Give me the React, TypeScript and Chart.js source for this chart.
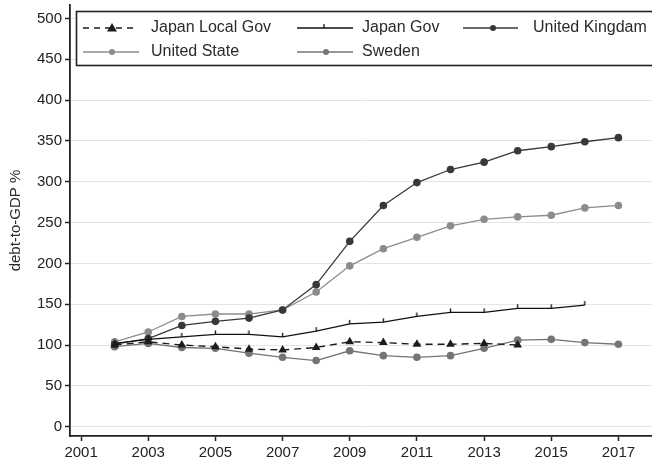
import React, { useEffect, useRef } from "react";
import { Chart, registerables } from "chart.js";

Chart.register(...registerables);

const years = [2002, 2003, 2004, 2005, 2006, 2007, 2008, 2009, 2010, 2011, 2012, 2013, 2014, 2015, 2016, 2017];
const seriesNames = ["Japan Local Gov", "Japan Gov", "United Kingdam", "United State", "Sweden"];
const japanLocalGov = [100, 104, 100, 98, 95, 94, 97, 104, 103, 101, 101, 102, 100];
const japanGov = [102, 107, 110, 113, 113, 110, 117, 126, 128, 135, 140, 140, 145, 145, 149];
const unitedKingdom = [101, 108, 124, 129, 133, 143, 174, 227, 271, 299, 315, 324, 338, 343, 349, 354];
const unitedStates = [104, 116, 135, 138, 138, 143, 165, 197, 218, 232, 246, 254, 257, 259, 268, 271];
const sweden = [98, 102, 97, 96, 90, 85, 81, 93, 87, 85, 87, 96, 106, 107, 103, 101];
const xTicks = [2001, 2003, 2005, 2007, 2009, 2011, 2013, 2015, 2017];
const yTicks = [0, 50, 100, 150, 200, 250, 300, 350, 400, 450, 500];

const FONT = "'Liberation Sans', Arial, Helvetica, sans-serif";

function pts(vals: number[]) {
  return vals.map((v, i) => ({ x: years[i], y: v }));
}

export default function App() {
  const ref = useRef<HTMLCanvasElement | null>(null);

  useEffect(() => {
    document.body.style.margin = "0";
    const canvas = ref.current;
    if (!canvas) return;

    const tick = document.createElement("canvas");
    tick.width = 3;
    tick.height = 10;
    const tctx = tick.getContext("2d")!;
    tctx.strokeStyle = "#111";
    tctx.lineWidth = 1.3;
    tctx.beginPath();
    tctx.moveTo(1.5, 1);
    tctx.lineTo(1.5, 5);
    tctx.stroke();

    const cJL = "#1c1c1c";
    const cJG = "#111111";
    const cUK = "#383838";
    const cUS = "#8c8c8c";
    const cSE = "#747474";

    const legendItems = [
      { label: seriesNames[0], color: cJL, dash: [6, 5], marker: "triangle", x0: 83, x1: 137, mx: 112, tx: 151, y: 28 },
      { label: seriesNames[1], color: cJG, dash: [], marker: "tick", x0: 297, x1: 353, mx: 324, tx: 362, y: 28 },
      { label: seriesNames[2], color: cUK, dash: [], marker: "circle", x0: 463, x1: 518, mx: 493, tx: 533, y: 28 },
      { label: seriesNames[3], color: cUS, dash: [], marker: "circle", x0: 83, x1: 139, mx: 112, tx: 151, y: 52 },
      { label: seriesNames[4], color: cSE, dash: [], marker: "circle", x0: 297, x1: 353, mx: 326, tx: 362, y: 52 },
    ];

    const legendPlugin = {
      id: "boxLegend",
      afterDraw(chart: any) {
        const ctx = chart.ctx as CanvasRenderingContext2D;
        ctx.save();
        ctx.fillStyle = "#ffffff";
        ctx.fillRect(76, 11, 590, 55);
        ctx.strokeStyle = "#222";
        ctx.lineWidth = 1.6;
        ctx.strokeRect(76.5, 11.5, 600, 54);
        for (const it of legendItems) {
          ctx.strokeStyle = it.color;
          ctx.lineWidth = 1.4;
          ctx.setLineDash(it.dash);
          ctx.beginPath();
          ctx.moveTo(it.x0, it.y);
          ctx.lineTo(it.x1, it.y);
          ctx.stroke();
          ctx.setLineDash([]);
          ctx.fillStyle = it.color;
          if (it.marker === "triangle") {
            ctx.beginPath();
            ctx.moveTo(it.mx, it.y - 5);
            ctx.lineTo(it.mx + 5, it.y + 3.5);
            ctx.lineTo(it.mx - 5, it.y + 3.5);
            ctx.closePath();
            ctx.fill();
          } else if (it.marker === "tick") {
            ctx.lineWidth = 1.3;
            ctx.beginPath();
            ctx.moveTo(it.mx, it.y - 4);
            ctx.lineTo(it.mx, it.y);
            ctx.stroke();
          } else {
            ctx.beginPath();
            ctx.arc(it.mx, it.y, 3, 0, Math.PI * 2);
            ctx.fill();
          }
          ctx.fillStyle = "#2a2a2a";
          ctx.font = `16px ${FONT}`;
          ctx.textBaseline = "middle";
          ctx.textAlign = "left";
          ctx.fillText(it.label, it.tx, it.y);
        }
        ctx.restore();
      },
    };

    const chart = new Chart(canvas, {
      type: "line",
      data: {
        datasets: [
          {
            label: seriesNames[0],
            data: pts(japanLocalGov),
            borderColor: cJL,
            backgroundColor: cJL,
            borderWidth: 1.4,
            borderDash: [7, 5],
            pointStyle: "triangle",
            pointRadius: 5,
            pointBorderWidth: 0,
          },
          {
            label: seriesNames[1],
            data: pts(japanGov),
            borderColor: cJG,
            backgroundColor: cJG,
            borderWidth: 1.3,
            pointStyle: tick as any,
            pointRadius: 3,
          },
          {
            label: seriesNames[2],
            data: pts(unitedKingdom),
            borderColor: cUK,
            backgroundColor: cUK,
            borderWidth: 1.3,
            pointStyle: "circle",
            pointRadius: 3.8,
            pointBorderWidth: 0,
          },
          {
            label: seriesNames[3],
            data: pts(unitedStates),
            borderColor: cUS,
            backgroundColor: cUS,
            borderWidth: 1.3,
            pointStyle: "circle",
            pointRadius: 3.8,
            pointBorderWidth: 0,
          },
          {
            label: seriesNames[4],
            data: pts(sweden),
            borderColor: cSE,
            backgroundColor: cSE,
            borderWidth: 1.3,
            pointStyle: "circle",
            pointRadius: 3.8,
            pointBorderWidth: 0,
          },
        ],
      },
      options: {
        responsive: false,
        animation: false,
        devicePixelRatio: 1,
        layout: { autoPadding: false, padding: { top: 5, left: 0, right: 0, bottom: 0 } },
        plugins: {
          legend: { display: false },
          tooltip: { enabled: false },
        },
        elements: { line: { tension: 0 } },
        scales: {
          x: {
            type: "linear",
            min: 2000.67,
            max: 2018,
            afterBuildTicks: (s: any) => {
              s.ticks = xTicks.map((v) => ({ value: v }));
            },
            afterFit: (s: any) => {
              s.height = 32;
              s.paddingLeft = 0;
              s.paddingRight = 0;
            },
            ticks: {
              callback: (v: any) => String(v),
              font: { family: FONT, size: 15 },
              color: "#222",
              padding: 3,
              maxRotation: 0,
              autoSkip: false,
            },
            grid: { drawOnChartArea: false, tickLength: 5, tickColor: "#222", tickWidth: 1.5 },
            border: { color: "#222", width: 1.8 },
          },
          y: {
            type: "linear",
            min: -11.4,
            max: 516.5,
            afterBuildTicks: (s: any) => {
              s.ticks = yTicks.map((v) => ({ value: v }));
            },
            afterFit: (s: any) => {
              s.width = 70;
              s.paddingTop = 0;
              s.paddingBottom = 0;
            },
            ticks: {
              callback: (v: any) => String(v),
              font: { family: FONT, size: 15 },
              color: "#222",
              padding: 3,
            },
            grid: { color: "#e4e4e4", lineWidth: 1, tickLength: 5, tickColor: "#222", tickWidth: 1.5 },
            border: { color: "#222", width: 1.8 },
            title: {
              display: true,
              text: "debt-to-GDP %",
              font: { family: FONT, size: 15 },
              color: "#2a2a2a",
              padding: { top: 7, bottom: 0 },
            },
          },
        },
      },
      plugins: [legendPlugin],
    });

    return () => chart.destroy();
  }, []);

  return (
    <div style={{ width: 652, height: 468 }}>
      <canvas ref={ref} width={652} height={468} style={{ display: "block" }} />
    </div>
  );
}
